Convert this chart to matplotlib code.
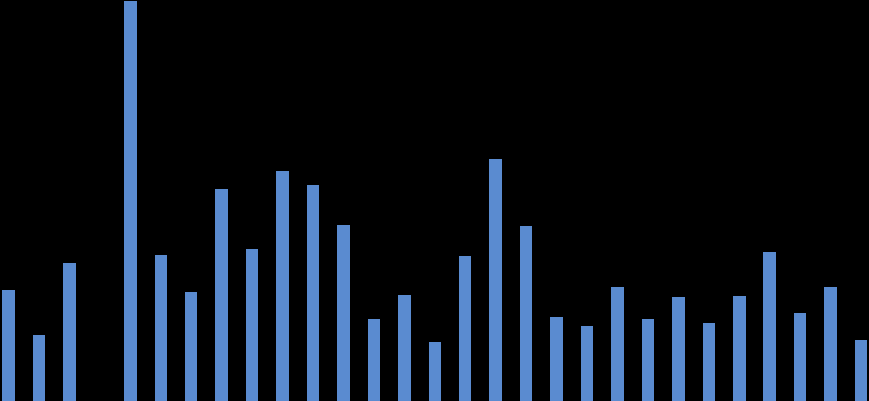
import matplotlib
matplotlib.use("Agg")
import matplotlib.pyplot as plt
import numpy as np

# bar heights (pixel scale, 401 = full height)
values = [111, 66, 138, 0, 400, 146, 109, 212, 152, 230, 216, 176, 82, 106, 59,
          145, 242, 175, 84, 75, 114, 82, 104, 78, 105, 149, 88, 114, 61]
positions = np.arange(len(values))

fig = plt.figure(figsize=(8.69, 4.01), dpi=100, facecolor="black")
ax = fig.add_axes([0, 0, 1, 1])
ax.set_facecolor("black")

ax.bar(positions, values, width=0.41, color="#5A8BD0")

ax.set_xlim(-0.28, 28.26)
ax.set_ylim(0, 401)
ax.axis("off")

fig.savefig("out.png", dpi=100, facecolor="black")
